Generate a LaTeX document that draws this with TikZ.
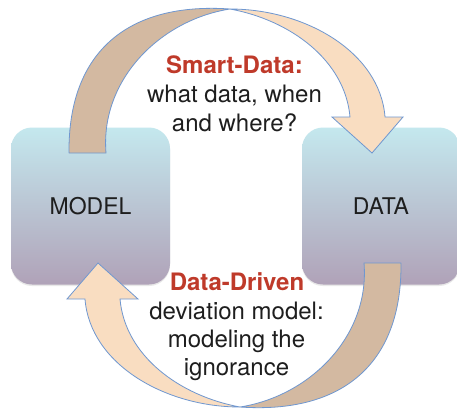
\documentclass[tikz,border=0pt]{standalone}
\usepackage{fontspec}
\setmainfont{TeX Gyre Heros}
\usetikzlibrary{shadows}
\definecolor{brownc}{HTML}{D3B9A1}
\definecolor{peachc}{HTML}{F9DDC1}
\definecolor{edgec}{HTML}{6F97D0}
\definecolor{boxtop}{HTML}{C4E8EE}
\definecolor{boxbot}{HTML}{B0A2B8}
\definecolor{redc}{HTML}{BF3A2A}
\definecolor{txtc}{HTML}{1E1E1E}
\tikzset{
  box/.style={rectangle, rounded corners=21pt, top color=boxtop, bottom color=boxbot,
    minimum height=157pt, inner sep=0pt, text=txtc, font=\fontsize{23}{28}\selectfont,
    drop shadow={opacity=0.18, shadow xshift=0pt, shadow yshift=-1.5pt}},
  backband/.style={fill=brownc, draw=edgec, line width=0.8pt, line join=round},
  frontband/.style={fill=peachc, draw=edgec, line width=0.8pt, line join=miter},
  lbl/.style={anchor=base, inner sep=0pt, text=txtc, font=\fontsize{24}{29}\selectfont},
  hd/.style={anchor=base, inner sep=0pt, text=redc, font=\fontsize{24}{29}\selectfont\bfseries}
}
\newcommand\arrowback{(69,153) .. controls (68,50) and (130,2) .. (230,9)
  .. controls (160,20) and (100,80) .. (106,153) -- cycle}
\newcommand\arrowfront{(230,9) .. controls (305,9) and (380,52) .. (385,117)
  -- (403,117) -- (372,153) -- (332,117) -- (350,117)
  .. controls (345,60) and (290,20) .. (230,9) -- cycle}
\begin{document}
\begin{tikzpicture}[x=1pt, y=-1pt]
\useasboundingbox (0,0) rectangle (457,408);
\fill[white] (0,0) rectangle (457,408);
\clip (0,0) rectangle (457,408);
% boxes
\node[box, minimum width=159pt] (model) at (90.5,206) {MODEL};
\node[box, minimum width=158pt] (data) at (381,206) {DATA};
% top arrow: MODEL -> DATA
\begin{scope}
  \coordinate (ttail) at (87.5,153);
  \coordinate (thead) at (372,153);
  \path[backband] \arrowback;
  \path[frontband] \arrowfront;
\end{scope}
% bottom arrow: DATA -> MODEL
\begin{scope}[rotate around={180:(235,208)}]
  \coordinate (btail) at (87.5,153);
  \coordinate (bhead) at (372,153);
  \path[backband] \arrowback;
  \path[frontband] \arrowfront;
\end{scope}
% labels
\node[hd]  (sd1) at (234.5,73) {Smart-Data:};
\node[lbl] (sd2) at (234.5,102) {what data, when};
\node[lbl] (sd3) at (234.5,131) {and where?};
\node[hd]  (dd1) at (237,290.5) {Data-Driven};
\node[lbl] (dd2) at (236.5,319) {deviation model:};
\node[lbl] (dd3) at (236.5,347.5) {modeling the};
\node[lbl] (dd4) at (236.5,375.5) {ignorance};
\end{tikzpicture}
\end{document}
